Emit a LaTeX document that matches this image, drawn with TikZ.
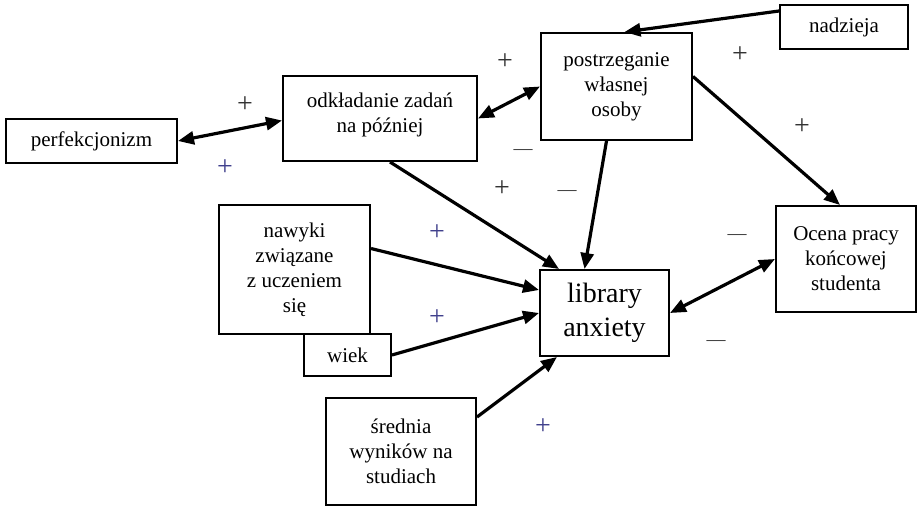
\documentclass[tikz,border=0pt]{standalone}
\usepackage{fontspec}
\setmainfont{Liberation Serif}
\usetikzlibrary{arrows.meta}
\definecolor{signblue}{rgb}{0.25,0.25,0.55}

\begin{document}
\begin{tikzpicture}[x=1pt,y=-1pt,
  box/.style={draw,line width=2pt,align=center,inner sep=0pt,
    font=\fontsize{21}{25}\selectfont},
  link/.style={line width=3.2pt,-{Triangle[length=16pt,width=13pt]}},
  twoway/.style={line width=3.2pt,
    {Triangle[length=16pt,width=13pt]}-{Triangle[length=16pt,width=13pt]}},
  plus/.style={font=\fontsize{28}{28}\selectfont,text=black!80},
  minus/.style={font=\fontsize{19}{19}\selectfont,text=black!80}]

\useasboundingbox (0,0) rectangle (918,506);

\node[box,minimum width=171pt,minimum height=44pt] (perf) at (91.5,141) {perfekcjonizm};
\node[box,minimum width=194pt,minimum height=85pt] (odk) at (380,118.5)
    {odkładanie zadań\\na później\\[-13pt]\mbox{}};
\node[box,minimum width=151pt,minimum height=107pt] (post) at (616.5,86.5)
    {postrzeganie\\własnej\\osoby};
\node[box,minimum width=128pt,minimum height=44pt] (nadz) at (844,27) {nadzieja};
\node[box,minimum width=140pt,minimum height=106pt] (ocena) at (846,259)
    {Ocena pracy\\końcowej\\studenta};
\node[box,minimum width=151pt,minimum height=129pt] (nawyki) at (294.5,269.5)
    {nawyki\\związane\\z uczeniem\\się};
\node[box,minimum width=87pt,minimum height=42pt] (wiek) at (347.5,355) {wiek};
\node[box,minimum width=129pt,minimum height=86pt,
    font=\fontsize{28}{34}\selectfont] (lib) at (604.5,313) {library\\anxiety};
\node[box,minimum width=150pt,minimum height=107pt] (sred) at (401,451.5)
    {średnia\\wyników na\\studiach};

% connectors
\draw[twoway] (perf.east) -- ([yshift=-2pt]odk.west);
\draw[twoway] (odk.east) -- (post.west);
\draw[link] ([yshift=-7pt]nadz.north west) -- ([xshift=8pt]post.north);
\draw[link] ([yshift=10pt]post.east) -- ([xshift=-6pt]ocena.north);
\draw[link] ([xshift=-10pt]post.south) -- ([xshift=-20pt]lib.north);
\draw[link] ([xshift=10pt]odk.south) -- ([xshift=20pt]lib.north west);
\draw[link] ([yshift=21pt]nawyki.east) -- ([yshift=23pt]lib.west);
\draw[link] (wiek.east) -- (lib.west);
\draw[link] ([yshift=-20pt]sred.north east) -- ([xshift=18pt]lib.south west);
\draw[twoway] (lib.east) -- (ocena.west);

% signs
\node[plus] (p1) at (245,105) {+};
\node[plus,text=signblue] (p2) at (225,168) {+};
\node[plus] (p3) at (505,62) {+};
\node[minus] (m1) at (523,152) {—};
\node[plus] (p4) at (502,189) {+};
\node[minus] (m2) at (567,193) {—};
\node[plus] (p5) at (740,55) {+};
\node[plus] (p6) at (802,127) {+};
\node[minus] (m3) at (737,237) {—};
\node[minus] (m4) at (716,343) {—};
\node[plus,text=signblue] (p7) at (437,233) {+};
\node[plus,text=signblue] (p8) at (437,318) {+};
\node[plus,text=signblue] (p9) at (543,427) {+};

\end{tikzpicture}
\end{document}
